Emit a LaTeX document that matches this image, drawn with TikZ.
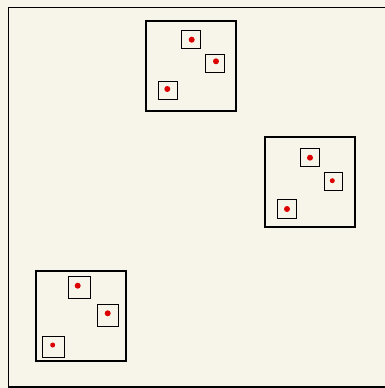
\documentclass[tikz,border=0pt]{standalone}
\usetikzlibrary{positioning}

\definecolor{paper}{RGB}{247,245,233}
\definecolor{pinred}{RGB}{221,0,0}

\begin{document}
\begin{tikzpicture}[
    x=1pt,
    y=-1pt,
    frame/.style={
        draw,
        line width=1.5pt
    },
    cluster/.style={
        rectangle,
        draw,
        line width=2pt,
        minimum size=90pt,
        inner sep=0pt
    },
    cell/.style={
        rectangle,
        draw,
        line width=0.9pt,
        minimum size=18.5pt,
        inner sep=0pt
    },
    bigcell/.style={
        cell,
        minimum size=21.5pt
    },
    pin/.style={
        circle,
        fill=pinred,
        inner sep=0pt,
        minimum size=6pt
    }
]

    \useasboundingbox (0,0) rectangle (385,388);
    \fill[paper] (0,0) rectangle (385,388);
    \draw[frame] (8.5,7.5) rectangle (390,387.2);

    % Upper cluster
    \node[cluster] (top) at (191.3,65.5) {};
    \node[cell] (top1) at (191,39.5) {};
    \node[cell] (top2) at (215,63.2) {};
    \node[cell] (top3) at (168,90.5) {};
    \node[pin] (topp1) at (191.7,39.7) {};
    \node[pin] (topp2) at (216,61.3) {};
    \node[pin] (topp3) at (167.3,89) {};

    % Right cluster
    \node[cluster] (right) at (309.5,182) {};
    \node[cell] (right1) at (309.7,157.5) {};
    \node[cell] (right2) at (333.5,181.5) {};
    \node[cell] (right3) at (287,208.7) {};
    \node[pin] (rightp1) at (310,157.7) {};
    \node[pin, minimum size=5pt] (rightp2) at (332.3,180.7) {};
    \node[pin] (rightp3) at (287,209) {};

    % Lower cluster
    \node[cluster] (low) at (80.5,316) {};
    \node[bigcell] (low1) at (79.5,287.3) {};
    \node[bigcell] (low2) at (107.7,315.2) {};
    \node[bigcell] (low3) at (53.2,346.8) {};
    \node[pin] (lowp1) at (77.7,285.7) {};
    \node[pin] (lowp2) at (107.7,313.3) {};
    \node[pin, minimum size=5pt] (lowp3) at (52.7,345) {};

\end{tikzpicture}
\end{document}
